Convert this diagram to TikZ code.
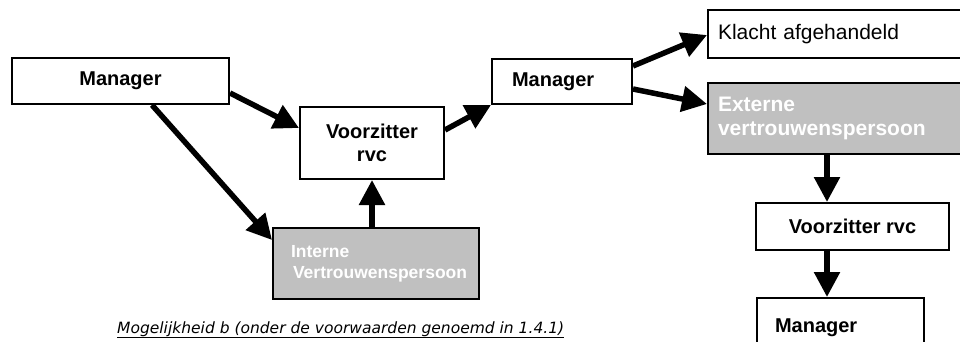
\documentclass[tikz,border=0pt]{standalone}
\usepackage{fontspec}
\setmainfont{Liberation Sans}
\newfontfamily\capfont{DejaVu Sans}
\usetikzlibrary{arrows.meta,calc}
\definecolor{boxgray}{HTML}{C0C0C0}
\tikzset{
  box/.style={draw=black, line width=2pt, fill=white, inner sep=0pt, font=\fontsize{20}{23}\selectfont\bfseries},
  graybox/.style={box, fill=boxgray, text=white},
  arr/.style={line width=5.5pt, -{Triangle[length=25pt,width=25pt]}},
}
\begin{document}
\begin{tikzpicture}[x=1pt,y=-1pt]
\useasboundingbox (0,0) rectangle (960,342);
% nodes
\node[box, minimum width=217pt, minimum height=46pt, anchor=north west] (m1) at (11,57) {Manager};
\node[box, minimum width=144pt, minimum height=72pt, anchor=north west, align=center] (vz) at (299,106) {Voorzitter\\rvc};
\node[graybox, minimum width=206pt, minimum height=71pt, anchor=north west, text width=190pt, inner xsep=8pt, align=left, font=\fontsize{17.5}{21}\selectfont\bfseries] (iv) at (272,227) {\hspace*{10pt}Interne\\\hspace*{12pt}Vertrouwenspersoon};
\node[box, minimum width=140pt, minimum height=45pt, anchor=north west, text width=124pt, inner xsep=8pt, align=left] (m2) at (491,58) {\hspace*{12pt}Manager};
\node[box, minimum width=260pt, minimum height=48pt, anchor=north west, text width=240pt, inner xsep=10pt, align=left, font=\fontsize{21}{24}\selectfont] (ka) at (707,9) {Klacht afgehandeld};
\node[graybox, minimum width=260pt, minimum height=71pt, anchor=north west, text width=240pt, inner xsep=10pt, align=left, font=\fontsize{21}{24}\selectfont\bfseries] (ev) at (707,82) {Externe\\vertrouwenspersoon};
\node[box, minimum width=193pt, minimum height=47pt, anchor=north west] (vz2) at (755,202) {Voorzitter rvc};
\node[box, minimum width=167pt, minimum height=60pt, anchor=north west, text width=147pt, inner xsep=10pt, align=left] (m3) at (756,297) {\hspace*{8pt}Manager\\[14pt]};
% caption
\node[anchor=base west, inner sep=0pt, font=\capfont\itshape\fontsize{15.5}{18}\selectfont] (cap) at (117,333) {\underline{Mogelijkheid b (onder de voorwaarden genoemd in 1.4.1)}};
% connectors
\draw[arr] ($(m1.north east)+(0,36)$) -- ($(vz.north west)+(0,22)$);
\draw[arr] ($(m1.south west)+(141,0)$) -- ($(iv.north west)+(0,13)$);
\draw[arr] (iv.north -| vz.south) -- (vz.south);
\draw[arr] ($(vz.north east)+(0,24)$) -- ($(m2.south west)+(0,0)$);
\draw[arr] ($(m2.north east)+(0,8)$) -- ($(ka.north west)+(0,26)$);
\draw[arr] ($(m2.north east)+(0,31)$) -- ($(ev.north west)+(0,22)$);
\draw[arr] ($(ev.south west)+(120,0)$) -- ($(vz2.north west)+(72,0)$);
\draw[arr] ($(vz2.south west)+(72,0)$) -- ($(m3.north west)+(71,0)$);
\end{tikzpicture}
\end{document}
